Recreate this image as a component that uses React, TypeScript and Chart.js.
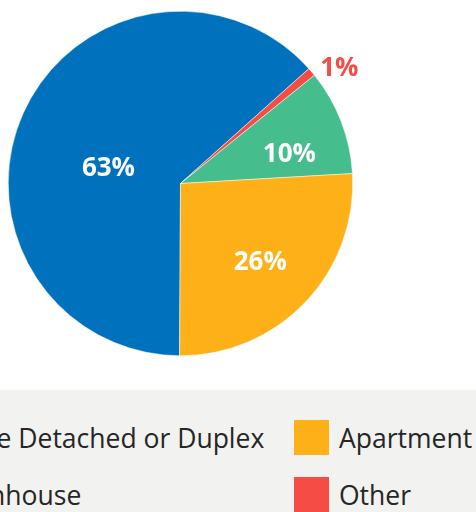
import React, { useEffect, useRef } from "react";
import { Chart, registerables } from "chart.js";

Chart.register(...registerables);

// Data in legend order
const categories = ["Single Detached or Duplex", "Apartment", "Townhouse", "Other"];
const shares = [63.3, 26.0, 9.9, 0.8];
const colors = ["#0071bc", "#fdb017", "#45bd8d", "#f54d45"];
// Legend grid order (row by row)
const legendOrder = [0, 1, 2, 3];
// Pie is drawn counter-clockwise in legend order, starting at the bottom
const drawOrder = [0, 3, 2, 1];

// label placement (polar tweak relative to slice mid-angle), in draw order
const labelAngleShift = [-10.8, 4.1, 5.4, 0.5];
const labelRadiusFrac = [0.43, 1.144, 0.657, 0.644];
const labelColor = ["#ffffff", "#f54d45", "#ffffff", "#ffffff"];

const pctLabels = {
  id: "pctLabels",
  afterDatasetsDraw(chart: any) {
    const ctx = chart.ctx;
    const meta = chart.getDatasetMeta(0);
    const data = chart.data.datasets[0].data as number[];
    const total = data.reduce((a, b) => a + b, 0);
    const size = 26;
    ctx.save();
    ctx.font = `bold ${size}px "Open Sans"`;
    ctx.textAlign = "center";
    ctx.textBaseline = "alphabetic";
    meta.data.forEach((arc: any, i: number) => {
      const p = arc.getProps(["x", "y", "startAngle", "endAngle", "outerRadius"], true);
      const mid = (p.startAngle + p.endAngle) / 2 + (labelAngleShift[i] * Math.PI) / 180;
      const r = p.outerRadius * labelRadiusFrac[i];
      const x = p.x + Math.cos(mid) * r;
      const y = p.y + Math.sin(mid) * r;
      ctx.fillStyle = labelColor[i];
      ctx.fillText(Math.round((data[i] / total) * 100) + "%", x, y + size * 0.357);
    });
    ctx.restore();
  },
};

export default function App() {
  const ref = useRef<HTMLCanvasElement | null>(null);

  useEffect(() => {
    document.body.style.margin = "0";
    const canvas = ref.current!;
    const chart = new Chart(canvas, {
      type: "pie",
      data: {
        labels: drawOrder.map((i) => categories[i]),
        datasets: [
          {
            data: drawOrder.map((i) => shares[i]),
            backgroundColor: drawOrder.map((i) => colors[i]),
            borderWidth: 0.5,
            borderColor: "#ffffff",
          },
        ],
      },
      options: {
        responsive: false,
        animation: false,
        devicePixelRatio: 1,
        rotation: 180.3,
        layout: { padding: { left: 8, top: 11, right: 123, bottom: 34 } },
        plugins: {
          legend: { display: false },
          tooltip: { enabled: false },
        },
      },
      plugins: [pctLabels],
    });
    return () => chart.destroy();
  }, []);

  return (
    <div style={{ position: "relative", width: 476, height: 512, overflow: "hidden", background: "#fff" }}>
      <canvas ref={ref} width={476} height={390} style={{ display: "block", width: 476, height: 390 }} />
      <div
        style={{
          position: "absolute",
          left: 0,
          top: 390,
          width: 476,
          height: 122,
          background: "#f2f2f0",
          overflow: "hidden",
        }}
      >
        <div
          style={{
            position: "absolute",
            left: -107,
            top: 30,
            display: "grid",
            gridTemplateColumns: "401px 401px",
            rowGap: 22,
            fontFamily: '"Open Sans", sans-serif',
            fontSize: 26.5,
            color: "#262626",
          }}
        >
          {legendOrder.map((i) => (
            <div key={i} style={{ display: "flex", alignItems: "center", height: 35, whiteSpace: "nowrap" }}>
              <span
                style={{ display: "inline-block", width: 35, height: 35, background: colors[i], marginRight: 10, flex: "none" }}
              />
              <span>{categories[i]}</span>
            </div>
          ))}
        </div>
      </div>
    </div>
  );
}
